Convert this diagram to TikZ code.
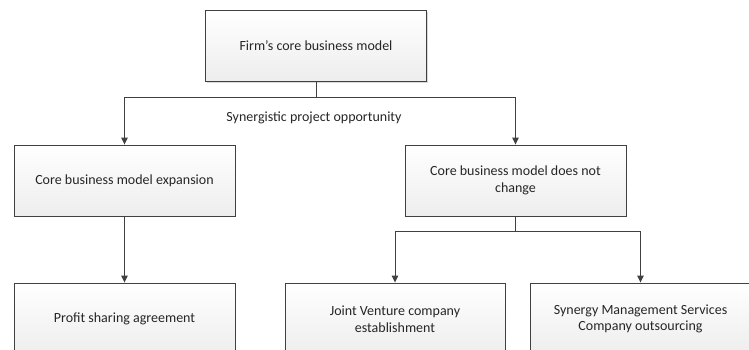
\documentclass[tikz,border=0pt]{standalone}
\usepackage{fontspec}
\setmainfont{Carlito}
\usetikzlibrary{arrows.meta,shadows,positioning}
\definecolor{linec}{HTML}{404040}
\definecolor{boxtop}{HTML}{FFFFFF}
\definecolor{boxbot}{HTML}{EDEDED}
\tikzset{
  box/.style={draw=linec, line width=0.9pt, top color=boxtop, bottom color=boxbot,
    minimum width=221pt, minimum height=71pt, align=center, inner sep=2pt,
    font=\fontsize{14}{16.6}\selectfont, text=black!85,
    drop shadow={shadow xshift=1pt, shadow yshift=-1pt, fill=black!30, opacity=0.5}},
  conn/.style={draw=linec, line width=1pt},
  arr/.style={conn, -{Triangle[width=6.5pt,length=7pt]}},
  lbl/.style={font=\fontsize{14}{16.6}\selectfont, text=black!85}
}
\begin{document}
\begin{tikzpicture}[x=1pt,y=-1pt]
\useasboundingbox (0,0) rectangle (749,349);
\begin{scope}
\clip (0,0) rectangle (749,349);
\node[box] (top) at (316,46) {Firm’s core business model};
\node[box] (exp) at (124.5,180.5) {Core business model expansion};
\node[box] (nochg) at (515.5,180.5) {Core business model does not\\change};
\node[box, minimum height=72pt] (profit) at (124.5,319) {Profit sharing agreement};
\node[box, minimum width=220pt, minimum height=72pt] (jv) at (395,319) {Joint Venture company\\establishment};
\node[box, minimum height=72pt] (sms) at (640.5,319) {Synergy Management Services\\Company outsourcing};
\end{scope}
\coordinate (j1) at (316,97);
\coordinate (j2) at (515.5,231.5);
\draw[conn] (top.south) -- (j1);
\draw[arr] (j1) -| (exp.north);
\draw[arr] (j1) -| (nochg.north);
\node[lbl] (syn) at (314,118) {Synergistic project opportunity};
\draw[arr] (exp.south) -- (profit.north);
\draw[conn] (nochg.south) -- (j2);
\draw[arr] (j2) -| (jv.north);
\draw[arr] (j2) -| (sms.north);
\end{tikzpicture}
\end{document}
